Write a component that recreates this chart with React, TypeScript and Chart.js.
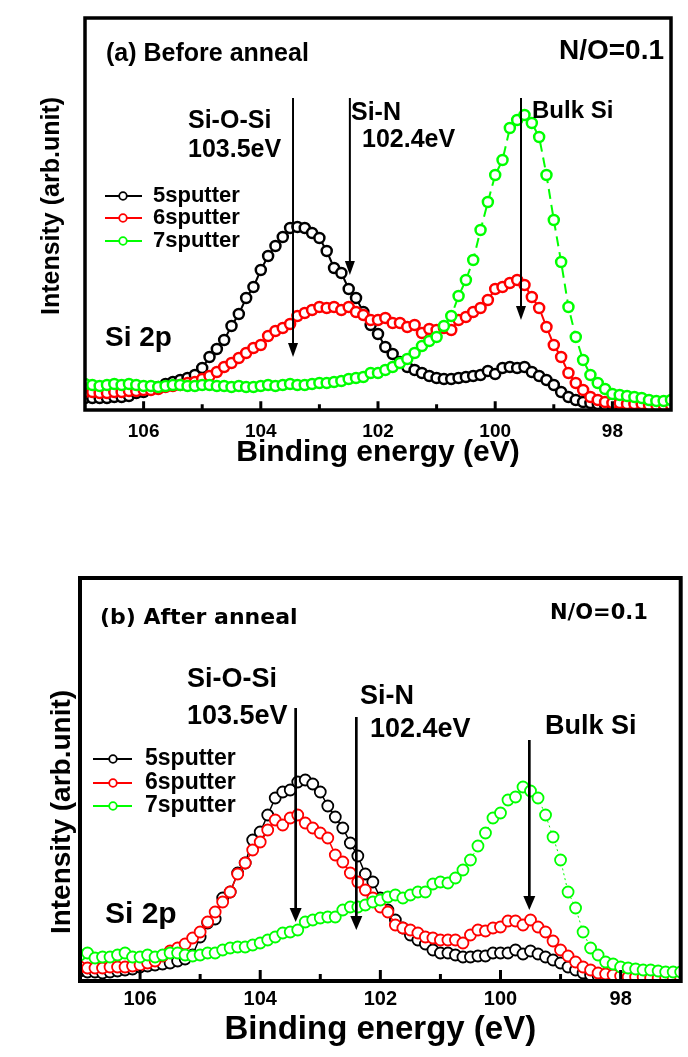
import React, { useEffect, useRef } from "react";
import { Chart, registerables } from "chart.js";

Chart.register(...registerables);

// Binding-energy sampling grid (eV), 0.125 eV steps from 107 to 97
const energies: number[] = Array.from({ length: 81 }, (_, i) => 107 - i * 0.125);

const majorTicks: number[] = [106, 104, 102, 100, 98];
const minorTicks: number[] = [105, 103, 101, 99];

const seriesNames: string[] = ["5sputter", "6sputter", "7sputter"];
const seriesColors: string[] = ["#000000", "#ff0000", "#00ff00"];

// (a) Before anneal — intensities (arb. units)
const beforeBlack: number[] = [
  12, 12, 12, 12, 13, 13, 14, 17, 18, 21,
  23, 26, 28, 30, 32, 35, 42, 53, 61, 70,
  84, 96, 112, 123, 140, 154, 164, 173, 182, 183,
  182, 177, 172, 159, 142, 137, 121, 112, 98, 85,
  76, 63, 56, 48, 43, 40, 37, 34, 32, 31,
  31, 32, 33, 34, 35, 39, 36, 42, 43, 42,
  43, 38, 34, 30, 25, 18, 13, 10, 8, 7,
  6, 5, 5, 5, 4, 4, 4, 4, 4, 4, 4,
];
const beforeRed: number[] = [
  18, 18, 17, 17, 18, 18, 19, 19, 20, 20,
  21, 23, 24, 25, 27, 28, 31, 34, 38, 43,
  47, 52, 57, 62, 65, 74, 79, 82, 86, 94,
  97, 100, 103, 102, 103, 100, 103, 98, 95, 90,
  90, 92, 87, 87, 83, 85, 77, 81, 80, 82,
  80, 90, 93, 98, 102, 110, 121, 123, 127, 130,
  125, 113, 102, 83, 65, 53, 37, 27, 20, 13,
  10, 8, 7, 7, 6, 6, 6, 5, 5, 5, 5,
];
const beforeGreen: number[] = [
  26, 25, 24, 25, 26, 25, 26, 25, 24, 24,
  23, 24, 25, 25, 24, 24, 25, 25, 24, 24,
  23, 24, 23, 23, 24, 25, 24, 25, 26, 25,
  25, 26, 27, 27, 28, 29, 31, 32, 33, 37,
  37, 40, 43, 47, 51, 57, 64, 69, 73, 84,
  94, 114, 130, 150, 180, 208, 235, 250, 282, 290,
  295, 287, 273, 235, 190, 148, 103, 73, 50, 35,
  27, 21, 16, 15, 14, 13, 12, 10, 9, 9, 10,
];

// (b) After anneal — intensities (arb. units)
const afterBlack: number[] = [
  10, 9, 9, 8, 9, 10, 11, 12, 14, 15,
  16, 17, 18, 20, 22, 26, 44, 58, 62, 83,
  89, 108, 118, 141, 149, 166, 183, 189, 191, 199,
  201, 197, 189, 175, 164, 153, 138, 125, 107, 99,
  83, 71, 61, 53, 46, 41, 37, 31, 28, 28,
  26, 24, 24, 25, 25, 28, 28, 28, 31, 27,
  30, 27, 24, 21, 18, 14, 11, 8, 6, 5,
  4, 4, 4, 3, 3, 3, 3, 3, 3, 3, 3,
];
const afterRed: number[] = [
  14, 13, 13, 13, 14, 14, 14, 15, 16, 18,
  20, 25, 30, 33, 37, 43, 49, 59, 69, 79,
  89, 107, 118, 131, 139, 151, 161, 156, 163, 166,
  158, 153, 148, 143, 126, 119, 108, 99, 91, 83,
  74, 69, 56, 53, 51, 48, 44, 43, 41, 41,
  41, 38, 46, 51, 50, 53, 54, 60, 60, 56,
  61, 54, 49, 40, 31, 25, 19, 14, 11, 8,
  7, 6, 5, 4, 4, 4, 3, 3, 3, 3, 3,
];
const afterGreen: number[] = [
  26, 28, 23, 24, 24, 26, 28, 24, 24, 26,
  24, 26, 28, 28, 26, 25, 26, 28, 28, 31,
  33, 34, 34, 36, 38, 41, 44, 48, 49, 51,
  59, 61, 63, 64, 64, 71, 74, 74, 76, 79,
  81, 84, 86, 83, 86, 89, 89, 97, 99, 98,
  103, 111, 121, 135, 148, 163, 168, 181, 184, 194,
  190, 183, 166, 144, 121, 89, 73, 49, 33, 26,
  19, 17, 14, 13, 12, 11, 11, 10, 9, 9, 9,
];

// Peak-marker arrows: energy (eV), arrow start and tip intensity
const arrowEnergiesBefore: number[] = [103.45, 102.48, 99.56];
const arrowStartBefore: number[] = [312, 312, 312];
const arrowTipBefore: number[] = [53, 135, 90];
const arrowEnergiesAfter: number[] = [103.41, 102.4, 99.52];
const arrowStartAfter: number[] = [273, 264, 241];
const arrowTipAfter: number[] = [59, 51, 71];

const ARIAL = '"Liberation Sans", Arial, Helvetica, sans-serif';
const DEJAVU = '"DejaVu Sans", "Liberation Sans", sans-serif';

type TextItem = { text: string; x: number; y: number; size: number; family?: string; align?: CanvasTextAlign };

type PanelCfg = {
  canvasTop: number;
  canvasHeight: number;
  area: { left: number; top: number; right: number; bottom: number };
  yMax: number;
  values: number[][];
  tickFont: number;
  tickPad: number;
  titleFont: number;
  titlePadBottom: number;
  frameWidth: number;
  majorLen: number;
  minorLen: number;
  pointRadius: number;
  pointBorder: number;
  lineWidths: number[];
  dashes: number[][];
  arrowE: number[];
  arrowStart: number[];
  arrowTip: number[];
  arrowLW: number;
  headW: number;
  headL: number;
  texts: TextItem[];
  legendRows: number[];
  legendLine: [number, number];
  legendMarkerX: number;
  legendTextX: number;
  legendFont: number;
  legendLW: number;
  yTitle: { x: number; y: number; size: number };
};

const W = 688;

const panels: PanelCfg[] = [
  {
    canvasTop: 0,
    canvasHeight: 490,
    area: { left: 85, top: 18, right: 671, bottom: 410 },
    yMax: 392,
    values: [beforeBlack, beforeRed, beforeGreen],
    tickFont: 19,
    tickPad: 10,
    titleFont: 30,
    titlePadBottom: 19,
    frameWidth: 3.5,
    majorLen: 7,
    minorLen: 4,
    pointRadius: 5,
    pointBorder: 2.5,
    lineWidths: [2, 2, 2],
    dashes: [[], [], [10, 6]],
    arrowE: arrowEnergiesBefore,
    arrowStart: arrowStartBefore,
    arrowTip: arrowTipBefore,
    arrowLW: 2,
    headW: 10,
    headL: 14,
    texts: [
      { text: "(a) Before anneal", x: 106, y: 54, size: 25 },
      { text: "N/O=0.1", x: 664, y: 51, size: 28, align: "right" },
      { text: "Si-O-Si", x: 188, y: 121, size: 25 },
      { text: "103.5eV", x: 188, y: 150, size: 25 },
      { text: "Si-N", x: 351, y: 113, size: 25 },
      { text: "102.4eV", x: 362, y: 140, size: 25 },
      { text: "Bulk Si", x: 532, y: 111, size: 24 },
      { text: "Si 2p", x: 105, y: 338, size: 28 },
    ],
    legendRows: [196, 218, 241],
    legendLine: [105, 142],
    legendMarkerX: 123,
    legendTextX: 153,
    legendFont: 22,
    legendLW: 2,
    yTitle: { x: 52, y: 206, size: 25 },
  },
  {
    canvasTop: 520,
    canvasHeight: 537,
    area: { left: 80, top: 58, right: 685, bottom: 461 },
    yMax: 403,
    values: [afterBlack, afterRed, afterGreen],
    tickFont: 20,
    tickPad: 6,
    titleFont: 33,
    titlePadBottom: 7,
    frameWidth: 4,
    majorLen: 9,
    minorLen: 5,
    pointRadius: 5.5,
    pointBorder: 1.8,
    lineWidths: [1.5, 1.5, 1],
    dashes: [[], [], [2, 3]],
    arrowE: arrowEnergiesAfter,
    arrowStart: arrowStartAfter,
    arrowTip: arrowTipAfter,
    arrowLW: 2.7,
    headW: 12,
    headL: 14,
    texts: [
      { text: "(b) After anneal", x: 100, y: 98, size: 22, family: DEJAVU },
      { text: "N/O=0.1", x: 550, y: 94, size: 21, family: DEJAVU },
      { text: "Si-O-Si", x: 187, y: 160, size: 27 },
      { text: "103.5eV", x: 187, y: 197, size: 27 },
      { text: "Si-N", x: 360, y: 177, size: 27 },
      { text: "102.4eV", x: 370, y: 210, size: 27 },
      { text: "Bulk Si", x: 545, y: 207, size: 27 },
      { text: "Si 2p", x: 105, y: 395, size: 30 },
    ],
    legendRows: [239, 263, 286],
    legendLine: [93, 132],
    legendMarkerX: 113,
    legendTextX: 145,
    legendFont: 23,
    legendLW: 2,
    yTitle: { x: 62, y: 292, size: 28 },
  },
];

function makePlugin(cfg: PanelCfg) {
  return {
    id: "xpsAnnotations",
    afterDatasetsDraw(chart: any) {
      const { ctx, chartArea: a, scales } = chart;
      const x = scales.x;
      const y = scales.y;
      ctx.save();
      ctx.fillStyle = "#000";
      ctx.strokeStyle = "#000";

      // arrows
      cfg.arrowE.forEach((e, i) => {
        const px = x.getPixelForValue(e);
        const y1 = y.getPixelForValue(cfg.arrowStart[i]);
        const y2 = y.getPixelForValue(cfg.arrowTip[i]);
        ctx.lineWidth = cfg.arrowLW;
        ctx.beginPath();
        ctx.moveTo(px, y1);
        ctx.lineTo(px, y2 - cfg.headL + 1);
        ctx.stroke();
        ctx.beginPath();
        ctx.moveTo(px - cfg.headW / 2, y2 - cfg.headL);
        ctx.lineTo(px + cfg.headW / 2, y2 - cfg.headL);
        ctx.lineTo(px, y2);
        ctx.closePath();
        ctx.fill();
      });

      // frame
      ctx.lineWidth = cfg.frameWidth;
      ctx.strokeRect(a.left, a.top, a.right - a.left, a.bottom - a.top);

      // inward ticks
      ctx.lineWidth = 3;
      const drawTick = (v: number, len: number) => {
        const px = x.getPixelForValue(v);
        ctx.beginPath();
        ctx.moveTo(px, a.bottom);
        ctx.lineTo(px, a.bottom - len - cfg.frameWidth / 2);
        ctx.stroke();
      };
      majorTicks.forEach((v) => drawTick(v, cfg.majorLen));
      minorTicks.forEach((v) => drawTick(v, cfg.minorLen));

      // texts
      ctx.textBaseline = "middle";
      cfg.texts.forEach((t) => {
        ctx.font = `bold ${t.size}px ${t.family || ARIAL}`;
        ctx.textAlign = t.align || "left";
        ctx.fillText(t.text, t.x, t.y);
      });

      // legend
      seriesNames.forEach((name, i) => {
        const ry = cfg.legendRows[i];
        ctx.strokeStyle = seriesColors[i];
        ctx.lineWidth = cfg.legendLW;
        ctx.beginPath();
        ctx.moveTo(cfg.legendLine[0], ry);
        ctx.lineTo(cfg.legendLine[1], ry);
        ctx.stroke();
        ctx.beginPath();
        ctx.arc(cfg.legendMarkerX, ry, 3.8, 0, Math.PI * 2);
        ctx.fillStyle = "#fff";
        ctx.fill();
        ctx.lineWidth = 1.8;
        ctx.stroke();
        ctx.fillStyle = "#000";
        ctx.font = `bold ${cfg.legendFont}px ${ARIAL}`;
        ctx.textAlign = "left";
        ctx.fillText(name, cfg.legendTextX, ry);
      });

      // y-axis title
      ctx.save();
      ctx.translate(cfg.yTitle.x, cfg.yTitle.y);
      ctx.rotate(-Math.PI / 2);
      ctx.font = `bold ${cfg.yTitle.size}px ${ARIAL}`;
      ctx.textAlign = "center";
      ctx.textBaseline = "middle";
      ctx.fillStyle = "#000";
      ctx.fillText("Intensity (arb.unit)", 0, 0);
      ctx.restore();

      ctx.restore();
    },
  };
}

function XpsPanel({ cfg }: { cfg: PanelCfg }) {
  const ref = useRef<HTMLCanvasElement | null>(null);

  useEffect(() => {
    if (!ref.current) return;
    const datasets = cfg.values.map((vals, s) => ({
      label: seriesNames[s],
      data: energies.map((e, i) => ({ x: e, y: vals[i] })),
      borderColor: seriesColors[s],
      backgroundColor: "#ffffff",
      pointBackgroundColor: "#ffffff",
      pointBorderColor: seriesColors[s],
      pointRadius: cfg.pointRadius,
      pointBorderWidth: cfg.pointBorder,
      pointStyle: "circle" as const,
      borderWidth: cfg.lineWidths[s],
      borderDash: cfg.dashes[s],
      tension: 0,
      fill: false,
      order: 3 - s,
    }));

    const chart = new Chart(ref.current, {
      type: "line",
      data: { datasets },
      options: {
        animation: false,
        responsive: false,
        devicePixelRatio: 1,
        events: [],
        layout: {
          padding: {
            left: cfg.area.left,
            right: W - cfg.area.right,
            top: cfg.area.top,
            bottom: 0,
          },
        },
        plugins: { legend: { display: false }, tooltip: { enabled: false }, title: { display: false } },
        scales: {
          x: {
            type: "linear",
            min: 97,
            max: 107,
            reverse: true,
            grid: { display: false, drawTicks: false },
            border: { display: false },
            afterBuildTicks: (s: any) => {
              s.ticks = majorTicks.map((v) => ({ value: v }));
            },
            afterFit: (s: any) => {
              s.height = cfg.canvasHeight - cfg.area.bottom;
            },
            ticks: {
              autoSkip: false,
              maxRotation: 0,
              padding: cfg.tickPad,
              color: "#000",
              font: { family: ARIAL, size: cfg.tickFont, weight: "bold" },
              callback: (v: any) => String(v),
            },
            title: {
              display: true,
              text: "Binding energy (eV)",
              color: "#000",
              font: { family: ARIAL, size: cfg.titleFont, weight: "bold" },
              padding: { top: 0, bottom: cfg.titlePadBottom },
            },
          },
          y: {
            type: "linear",
            display: false,
            min: 0,
            max: cfg.yMax,
          },
        },
      },
      plugins: [makePlugin(cfg)],
    } as any);
    return () => chart.destroy();
  }, [cfg]);

  return (
    <canvas
      ref={ref}
      width={W}
      height={cfg.canvasHeight}
      style={{ position: "absolute", left: 0, top: cfg.canvasTop, width: W, height: cfg.canvasHeight }}
    />
  );
}

export default function App() {
  return (
    <div style={{ position: "absolute", left: 0, top: 0, width: W, height: 1057, background: "#fff", overflow: "hidden" }}>
      {panels.map((p, i) => (
        <XpsPanel key={i} cfg={p} />
      ))}
    </div>
  );
}
